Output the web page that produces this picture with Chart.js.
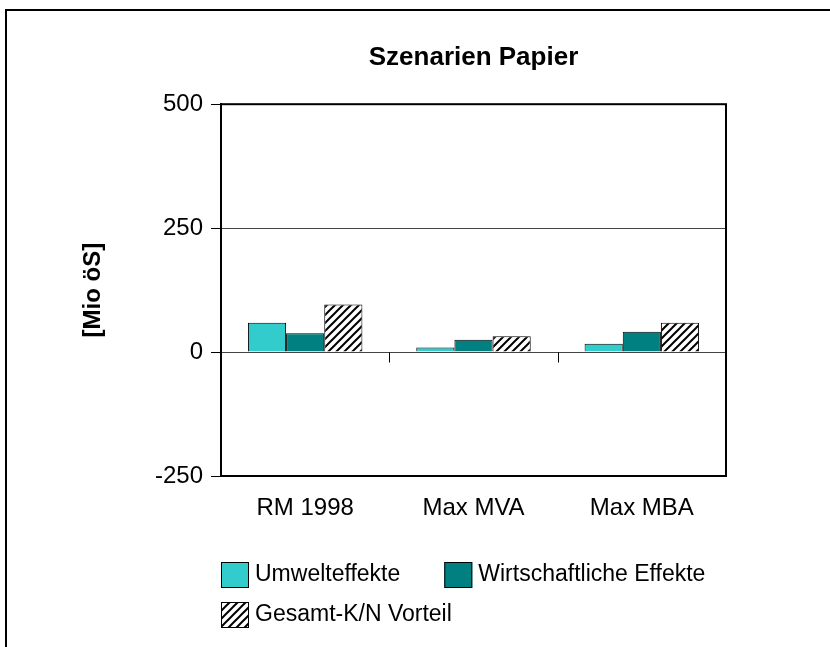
<!DOCTYPE html>
<html>
<head>
<meta charset="utf-8">
<title>Szenarien Papier</title>
<script src="https://cdn.jsdelivr.net/npm/chart.js@4.4.1/dist/chart.umd.min.js"></script>
<style>
  html, body { margin: 0; padding: 0; background: #fff; }
  #wrap { position: relative; width: 830px; height: 647px; overflow: hidden; }
  #frame { position: absolute; left: 5px; top: 9px; width: 1000px; height: 1000px;
           border-left: 2px solid #000; border-top: 2px solid #000; }
  #chart { position: absolute; left: 0; top: 0; }
</style>
</head>
<body>
<div id="wrap">
  <div id="frame"></div>
  <canvas id="chart" width="830" height="647"></canvas>
</div>
<script>
// values, in Mio öS
const categories = ['RM 1998', 'Max MVA', 'Max MBA'];
const umwelteffekte = [59, 9, 17];
const wirtschaftlicheEffekte = [38, 25, 41];
const gesamtVorteil = [96, 32, 59];
const yTicks = [-250, 0, 250, 500];

const FONT = "'Liberation Sans', Arial, Helvetica, sans-serif";
Chart.defaults.font.family = FONT;
Chart.defaults.color = '#000';

// white with black "/" stripes
function hatch() {
  const c = document.createElement('canvas');
  c.width = 8;
  c.height = 8;
  const g = c.getContext('2d');
  g.fillStyle = '#fff';
  g.fillRect(0, 0, 8, 8);
  g.strokeStyle = '#000';
  g.lineWidth = 2;
  g.beginPath();
  g.moveTo(0, 8); g.lineTo(8, 0);
  g.moveTo(-2, 2); g.lineTo(2, -2);
  g.moveTo(6, 10); g.lineTo(10, 6);
  g.stroke();
  return g.createPattern(c, 'repeat');
}

// box round the plot area and small ticks on the zero line between categories
const plotFrame = {
  id: 'plotFrame',
  afterDatasetsDraw(chart) {
    const { ctx, chartArea: a, scales: { x, y } } = chart;
    ctx.save();
    ctx.strokeStyle = '#000';
    ctx.lineWidth = 1;
    const y0 = Math.round(y.getPixelForValue(0)) + 0.5;
    ctx.beginPath();
    for (let i = 1; i < categories.length; i++) {
      const xm = Math.round((x.getPixelForValue(i - 1) + x.getPixelForValue(i)) / 2) + 0.5;
      ctx.moveTo(xm, y0);
      ctx.lineTo(xm, y0 + 10);
    }
    ctx.stroke();
    ctx.lineWidth = 2;
    ctx.strokeRect(a.left, a.top, a.right - a.left, a.bottom - a.top);
    ctx.restore();
  }
};

// legend under the axis, left aligned with the plot area
const bottomLegend = {
  id: 'bottomLegend',
  afterDraw(chart) {
    const { ctx, chartArea: a } = chart;
    const boxW = 28, boxH = 26, gap = 6, itemGap = 44, rowH = 40;
    ctx.save();
    ctx.font = '23px ' + FONT;
    ctx.textBaseline = 'middle';
    let x = a.left;
    let yTop = a.bottom + 86;
    chart.data.datasets.forEach((ds, i) => {
      const w = boxW + gap + ctx.measureText(ds.label).width;
      if (i > 0 && x + w > a.right) {
        x = a.left;
        yTop += rowH;
      }
      ctx.fillStyle = ds.backgroundColor;
      ctx.fillRect(x, yTop, boxW, boxH);
      ctx.strokeStyle = '#000';
      ctx.lineWidth = 1;
      ctx.strokeRect(x + 0.5, yTop + 0.5, boxW - 1, boxH - 1);
      ctx.fillStyle = '#000';
      ctx.fillText(ds.label, x + boxW + gap, yTop + boxH / 2);
      x += w + itemGap;
    });
    ctx.restore();
  }
};

const data = {
  labels: categories,
  datasets: [
    {
      label: 'Umwelteffekte',
      data: umwelteffekte,
      backgroundColor: '#33CCCC',
      borderColor: '#000',
      borderWidth: 1,
    },
    {
      label: 'Wirtschaftliche Effekte',
      data: wirtschaftlicheEffekte,
      backgroundColor: '#008080',
      borderColor: '#000',
      borderWidth: 1,
    },
    {
      label: 'Gesamt-K/N Vorteil',
      data: gesamtVorteil,
      backgroundColor: hatch(),
      borderColor: '#000',
      borderWidth: 1,
    },
  ],
};

const config = {
  type: 'bar',
  data,
  options: {
    responsive: false,
    animation: false,
    devicePixelRatio: 1,
    datasets: {
      bar: { categoryPercentage: 0.68, barPercentage: 1 },
    },
    layout: {
      padding: { left: 70, right: 104, top: 0, bottom: 131 },
    },
    scales: {
      x: {
        grid: { display: false },
        border: { display: false },
        ticks: { font: { size: 24 }, color: '#000', padding: 10 },
        afterFit: (scale) => { scale.height = 40; },
      },
      y: {
        min: -250,
        max: 500,
        afterBuildTicks: (scale) => { scale.ticks = yTicks.map(v => ({ value: v })); },
        grid: {
          color: '#444',
          lineWidth: 1,
          tickColor: '#000',
          tickLength: 10,
        },
        border: { display: true, color: '#000', width: 2 },
        ticks: { font: { size: 24 }, color: '#000', padding: 8 },
        title: {
          display: true,
          text: '[Mio öS]',
          font: { size: 24, weight: 'bold' },
          color: '#000',
          padding: 9,
        },
        afterFit: (scale) => { scale.width = 151; },
      },
    },
    plugins: {
      legend: { display: false },
      tooltip: { enabled: false },
      title: {
        display: true,
        fullSize: false,
        text: 'Szenarien Papier',
        color: '#000',
        font: { size: 26, weight: 'bold' },
        padding: { top: 42, bottom: 31 },
      },
    },
  },
  plugins: [plotFrame, bottomLegend],
};

new Chart(document.getElementById('chart'), config);
</script>
</body>
</html>
